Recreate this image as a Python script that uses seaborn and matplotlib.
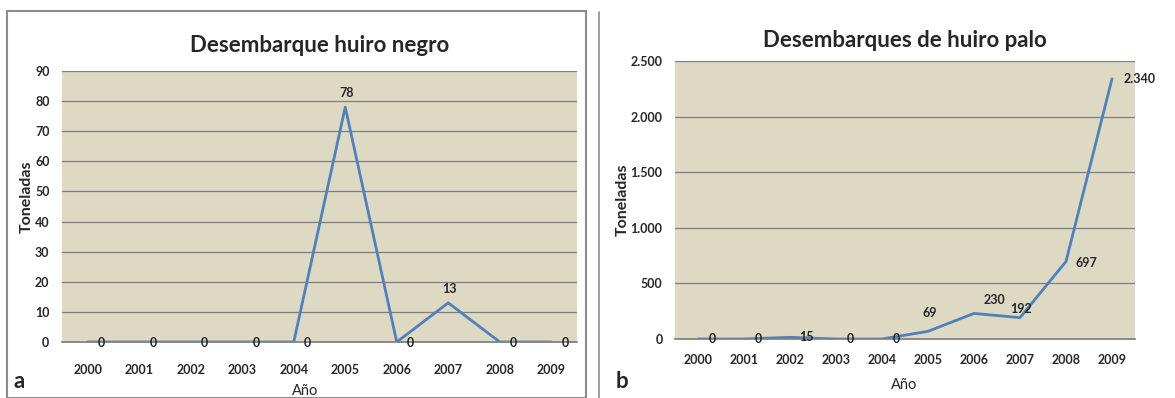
import numpy as np
import pandas as pd
import matplotlib.pyplot as plt
import matplotlib.ticker as mticker
from matplotlib.patches import Rectangle
import seaborn as sns

# data
years = ['2000', '2001', '2002', '2003', '2004', '2005', '2006', '2007', '2008', '2009']
negro = [0, 0, 0, 0, 0, 78, 0, 13, 0, 0]
palo = [0, 0, 15, 0, 0, 69, 230, 192, 697, 2340]

sns.set_theme(style='white')
plt.rcParams['font.family'] = ['Lato', 'DejaVu Sans']

W, H = 1175, 398
fig = plt.figure(figsize=(W / 100, H / 100), dpi=100)

def box(x0, y0, x1, y1):
    # pixel coords (top-left origin) -> figure fraction
    return [x0 / W, 1 - y1 / H, (x1 - x0) / W, (y1 - y0) / H]

# panel frames
fig.patches.append(Rectangle((7 / W, 0), (586 - 7) / W, 1 - 11 / H, transform=fig.transFigure,
                             fill=False, edgecolor='#8c8c8c', linewidth=1.5))
fig.add_artist(plt.Line2D([599 / W, 599 / W], [0, 1 - 12 / H], transform=fig.transFigure,
                          color='#8c8c8c', linewidth=1.2))

blue = '#4F81BD'
bg = '#DDD9C3'

def style(ax, ymax, step, title, fmt, xpad, ypad, tpad):
    ax.set_facecolor(bg)
    ax.set_xlim(-0.5, 9.5)
    ax.set_ylim(0, ymax)
    ax.yaxis.set_major_locator(mticker.MultipleLocator(step))
    ax.yaxis.set_major_formatter(mticker.FuncFormatter(fmt))
    ax.grid(axis='y', color='#7f7f7f', linewidth=0.9)
    ax.set_axisbelow(True)
    for s in ['left', 'right', 'top']:
        ax.spines[s].set_visible(False)
    ax.spines['bottom'].set_color('#7f7f7f')
    ax.tick_params(axis='both', length=0, labelsize=9)
    ax.tick_params(axis='x', pad=xpad)
    ax.tick_params(axis='y', pad=ypad)
    for lab in ax.get_xticklabels() + ax.get_yticklabels():
        lab.set_fontweight('bold')
    ax.set_xlabel('')
    ax.set_ylabel('')
    ax.set_title(title, fontsize=16, fontweight='bold', pad=tpad)

# panel a
ax1 = fig.add_axes(box(62, 71, 577, 342))
df1 = pd.DataFrame({'Año': years, 'Toneladas': negro})
sns.lineplot(data=df1, x='Año', y='Toneladas', ax=ax1, color=blue, linewidth=2)
style(ax1, 90, 10, 'Desembarque huiro negro', lambda v, p: f'{int(v)}', 16, 9, 14)
for i, v in enumerate(negro):
    if v > 0:
        ax1.annotate(str(v), (i, v), xytext=(1, 10), textcoords='offset points',
                     ha='center', va='center', fontsize=9, fontweight='bold')
    else:
        ax1.annotate(str(v), (i, v), xytext=(10, -1), textcoords='offset points',
                     ha='center', va='center', fontsize=9, fontweight='bold')
fig.text(27 / W, 1 - 197 / H, 'Toneladas', rotation=90, ha='center', va='center',
         fontsize=11.5, fontweight='bold')
fig.text(305 / W, 1 - 391 / H, 'Año', ha='center', va='center', fontsize=10.5)
fig.text(14 / W, 1 - 382 / H, 'a', ha='left', va='center', fontsize=16, fontweight='bold')

# panel b
ax2 = fig.add_axes(box(675, 61, 1135, 339))
df2 = pd.DataFrame({'Año': years, 'Toneladas': palo})
sns.lineplot(data=df2, x='Año', y='Toneladas', ax=ax2, color=blue, linewidth=2)
style(ax2, 2500, 500, 'Desembarques de huiro palo',
      lambda v, p: f'{int(v):,}'.replace(',', '.'), 11, 9, 10)
offs = {0: (10, 0), 1: (10, 0), 2: (12, 0), 3: (10, 0), 4: (10, 0), 5: (1, 13),
        6: (15, 10), 7: (1, 6), 8: (15, -1), 9: (20, 0)}
for i, v in enumerate(palo):
    dx, dy = offs[i]
    lab = f'{v:,}'.replace(',', '.')
    ax2.annotate(lab, (i, v), xytext=(dx, dy), textcoords='offset points',
                 ha='center', va='center', fontsize=9, fontweight='bold')
fig.text(623 / W, 1 - 200 / H, 'Toneladas', rotation=90, ha='center', va='center',
         fontsize=11.5, fontweight='bold')
fig.text(904 / W, 1 - 385 / H, 'Año', ha='center', va='center', fontsize=10.5)
fig.text(616 / W, 1 - 382 / H, 'b', ha='left', va='center', fontsize=16, fontweight='bold')

fig.savefig('out.png', dpi=100)
